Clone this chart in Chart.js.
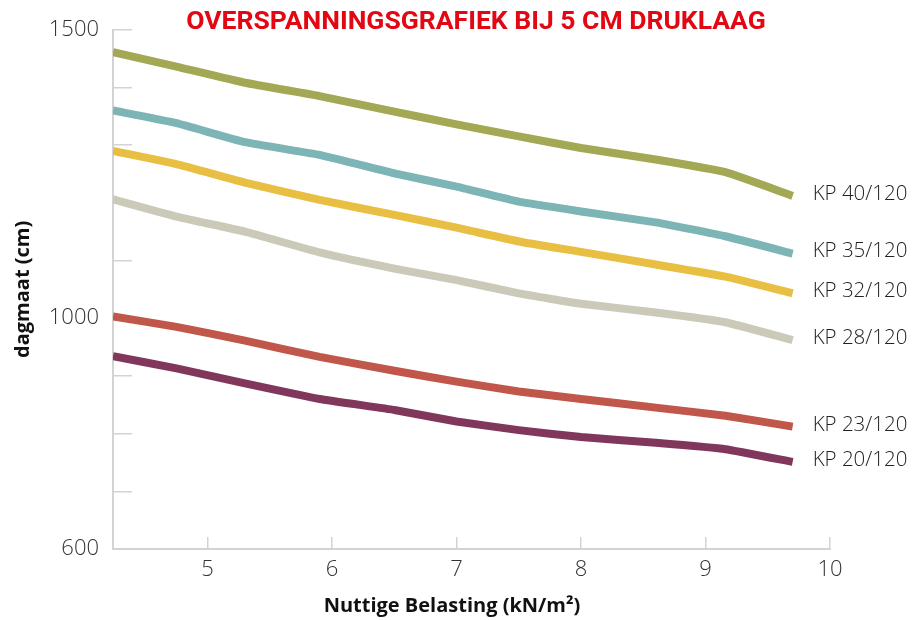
<!DOCTYPE html>
<html>
<head>
<meta charset="utf-8">
<script src="https://cdn.jsdelivr.net/npm/chart.js@4/dist/chart.umd.min.js"></script>
<style>
    html, body { margin: 0; padding: 0; background: #ffffff; }
    #wrap { width: 912px; height: 620px; }
</style>
</head>
<body>
<div id="wrap"><canvas id="spanChart" width="912" height="620"></canvas></div>
<script>
// Gegevens uit de grafiek
const chartTitle = 'OVERSPANNINGSGRAFIEK BIJ 5 CM DRUKLAAG';
const xTitle = 'Nuttige Belasting (kN/m²)';
const yTitle = 'dagmaat (cm)';

const belasting = [4.24, 4.75, 5.3, 5.9, 6.5, 7.0, 7.5, 8.0, 8.6, 9.16, 9.7];
const kp40 = [1461, 1436, 1408, 1385, 1358, 1336, 1315, 1295, 1275, 1253, 1212];
const kp35 = [1360, 1338, 1305, 1283, 1251, 1228, 1202, 1185, 1166, 1142, 1112];
const kp32 = [1290, 1267, 1235, 1205, 1179, 1157, 1133, 1115, 1093, 1072, 1043];
const kp28 = [1206, 1176, 1150, 1114, 1086, 1066, 1043, 1025, 1010, 993, 962];
const kp23 = [1003, 985, 961, 933, 909, 890, 873, 860, 845, 831, 812];
const kp20 = [934, 913, 887, 860, 841, 821, 806, 794, 784, 773, 751];

const seriesNames = ['KP 40/120', 'KP 35/120', 'KP 32/120', 'KP 28/120', 'KP 23/120', 'KP 20/120'];
const seriesValues = [kp40, kp35, kp32, kp28, kp23, kp20];
const seriesColors = ['#a2a853', '#7db4b5', '#e8bf42', '#cbc9b8', '#c0574a', '#80375b'];

const xTicks = [5, 6, 7, 8, 9, 10];
const yLabelled = [600, 1000, 1500];

const axisColor = '#d3d3d3';

// Titel, as-titel en labels aan het einde van de lijnen
const annotations = {
    id: 'annotations',
    afterDraw(chart) {
        const { ctx, scales: { x, y } } = chart;
        ctx.save();
        ctx.textBaseline = 'middle';

        ctx.fillStyle = '#e30613';
        ctx.font = 'bold 26.5px Roboto';
        ctx.textAlign = 'center';
        ctx.fillText(chartTitle, 476, 22);

        ctx.fillStyle = '#111';
        ctx.font = 'bold 20px "Open Sans"';
        ctx.fillText(xTitle, 452, 606);

        ctx.font = '300 20.5px "Open Sans"';
        ctx.fillStyle = '#222';
        ctx.textAlign = 'left';
        chart.data.datasets.forEach((ds, i) => {
            const last = ds.data[ds.data.length - 1];
            ctx.fillText(seriesNames[i], x.getPixelForValue(last.x) + 20, y.getPixelForValue(last.y) - 2);
        });
        ctx.restore();
    }
};

const datasets = seriesValues.map((values, i) => ({
    label: seriesNames[i],
    data: values.map((v, j) => ({ x: belasting[j], y: v })),
    borderColor: seriesColors[i],
    backgroundColor: seriesColors[i],
    borderWidth: 8,
    borderCapStyle: 'butt',
    pointRadius: 0,
    tension: 0.12,
    fill: false
}));

new Chart(document.getElementById('spanChart'), {
    type: 'line',
    data: { datasets: datasets },
    options: {
        responsive: false,
        animation: false,
        layout: {
            padding: { top: 29.7, right: 82, bottom: 0, left: 0 }
        },
        plugins: {
            legend: { display: false },
            tooltip: { enabled: false }
        },
        scales: {
            x: {
                type: 'linear',
                min: 4.24,
                max: 10,
                afterBuildTicks: function(scale) {
                    scale.ticks = xTicks.map(v => ({ value: v }));
                },
                afterFit: function(scale) {
                    scale.height = 71;
                },
                border: { color: axisColor, width: 2 },
                grid: {
                    drawOnChartArea: false,
                    drawTicks: true,
                    tickLength: -12,
                    color: axisColor,
                    lineWidth: 1.5
                },
                ticks: {
                    padding: 20,
                    color: '#333',
                    font: { family: 'Open Sans', size: 22, weight: '300' }
                }
            },
            y: {
                type: 'linear',
                min: 600,
                max: 1500,
                afterBuildTicks: function(scale) {
                    const t = [];
                    for (let v = 600; v <= 1500; v += 100) t.push({ value: v });
                    scale.ticks = t;
                },
                afterFit: function(scale) {
                    scale.width = 113;
                    scale.paddingTop = 0;
                    scale.paddingBottom = 0;
                },
                border: { color: axisColor, width: 2 },
                grid: {
                    drawOnChartArea: false,
                    drawTicks: true,
                    tickLength: -19,
                    color: axisColor,
                    lineWidth: 1.5
                },
                ticks: {
                    padding: 33,
                    color: '#333',
                    font: { family: 'Open Sans', size: 22, weight: '300' },
                    callback: function(value) {
                        return yLabelled.includes(value) ? String(value) : '';
                    }
                },
                title: {
                    display: true,
                    text: yTitle,
                    color: '#111',
                    font: { family: 'Open Sans', size: 20, weight: 'bold' },
                    padding: { top: 11, bottom: 0 }
                }
            }
        }
    },
    plugins: [annotations]
});
</script>
</body>
</html>
